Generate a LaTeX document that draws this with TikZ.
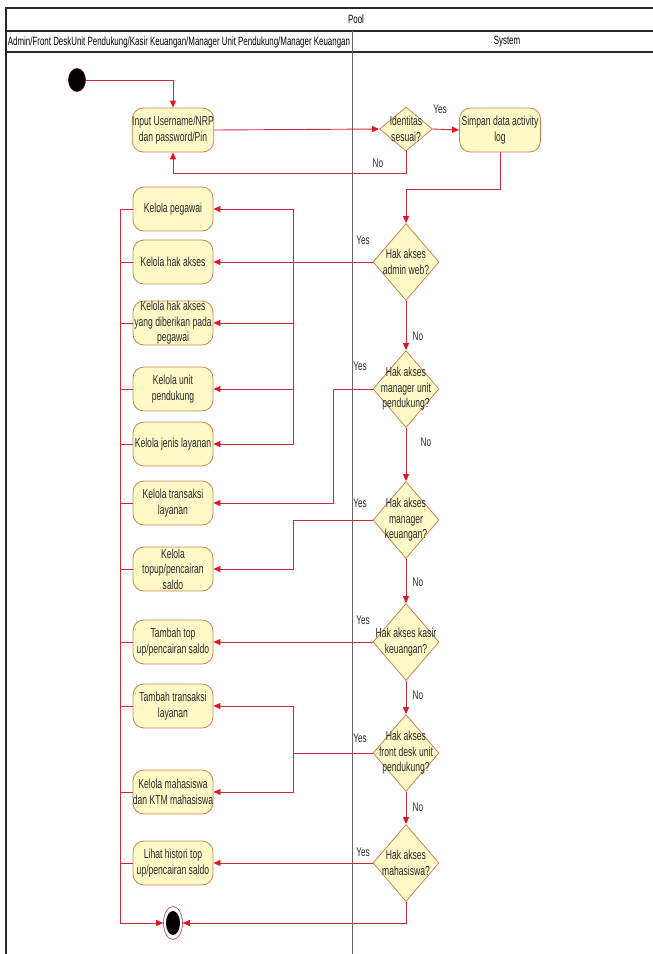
\documentclass[tikz,border=0pt]{standalone}
\usepackage{fontspec}
\setmainfont{Liberation Sans}[FakeStretch=0.66]
\usetikzlibrary{arrows.meta,shapes.geometric,calc}
\definecolor{nodefill}{RGB}{255,249,200}
\definecolor{nodeline}{RGB}{204,130,80}
\definecolor{flow}{RGB}{200,45,55}
\definecolor{tipred}{RGB}{230,20,30}
\definecolor{frameline}{RGB}{40,40,40}
\definecolor{txt}{RGB}{40,40,40}
\begin{document}
\begin{tikzpicture}[x=1pt,y=-1pt,
 act/.style={draw=nodeline,fill=nodefill,rounded corners=11pt,minimum width=80pt,minimum height=44pt,inner sep=0pt,align=center,font=\fontsize{13}{15.5}\selectfont,text=txt,line width=0.8pt},
 dec/.style={draw=nodeline,fill=nodefill,diamond,minimum width=66pt,minimum height=77pt,inner sep=0pt,line width=0.8pt},
 dectxt/.style={align=center,font=\fontsize{13}{15.5}\selectfont,text=txt,inner sep=0pt},
 flowline/.style={draw=flow,line width=0.9pt},
 arr/.style={flowline,-{Triangle[length=7pt,width=6pt,color=tipred]}},
 lbl/.style={font=\fontsize{12.5}{14}\selectfont,text=txt,inner sep=0pt},
 hdr/.style={font=\fontsize{12}{14}\selectfont,text=black,inner sep=0pt},
]
\useasboundingbox (0,0) rectangle (653,954);
% frame
\draw[frameline,line width=1.2pt] (653,8) -- (6,8) -- (6,954);
\draw[frameline,line width=1.2pt] (6,31) -- (653,31);
\draw[frameline,line width=1.2pt] (6,52) -- (653,52);
\draw[black!60,line width=0.8pt] (352,31) -- (352,954);
\node[hdr] (pool) at (356,19.5) {Pool};
\node[hdr] (lane1) at (179,42) {Admin/Front DeskUnit Pendukung/Kasir Keuangan/Manager Unit Pendukung/Manager Keuangan};
\node[hdr] (lane2) at (507,42) {System};

% start / end
\node[draw=black!60!red,fill=black,ellipse,minimum width=17pt,minimum height=23pt,inner sep=0pt,line width=0.6pt] (start) at (77,80) {};
\node[draw=flow,fill=white,ellipse,minimum width=19pt,minimum height=33pt,inner sep=0pt,line width=0.6pt] (end) at (173,923) {};
\node[fill=black,ellipse,minimum width=14pt,minimum height=24pt,inner sep=0pt] (endin) at (end) {};

% actions
\node[act] (input) at (173,130) {Input Username/NRP\\dan password/Pin};
\node[act,minimum width=81pt] (simpan) at (500,130) {Simpan data activity\\log};
\node[act] (k1) at (173,209) {Kelola pegawai};
\node[act] (k2) at (173,262) {Kelola hak akses};
\node[act] (k3) at (173,323) {Kelola hak akses\\yang diberikan pada\\pegawai};
\node[act] (k4) at (173,389) {Kelola unit\\pendukung};
\node[act] (k5) at (173,444) {Kelola jenis layanan};
\node[act] (k6) at (173,503) {Kelola transaksi\\layanan};
\node[act] (k7) at (173,569) {Kelola\\topup/pencairan\\saldo};
\node[act] (k8) at (173,642) {Tambah top\\up/pencairan saldo};
\node[act] (k9) at (173,706) {Tambah transaksi\\layanan};
\node[act] (k10) at (173,792) {Kelola mahasiswa\\dan KTM mahasiswa};
\node[act] (k11) at (173,863) {Lihat histori top\\up/pencairan saldo};

% decisions
\node[dec,minimum width=53pt,minimum height=44pt] (d0) at (406,129) {};
\node[dectxt] (d0t) at (d0) {Identitas\\sesuai?};
\node[dec] (d1) at (406,262) {};
\node[dectxt] (d1t) at (d1) {Hak akses\\admin web?};
\node[dec] (d2) at (406,389) {};
\node[dectxt] (d2t) at (d2) {Hak akses\\manager unit\\pendukung?};
\node[dec] (d3) at (406,520) {};
\node[dectxt] (d3t) at (d3) {Hak akses\\manager\\keuangan?};
\node[dec] (d4) at (406,642) {};
\node[dectxt] (d4t) at (d4) {Hak akses kasir\\keuangan?};
\node[dec] (d5) at (406,753) {};
\node[dectxt] (d5t) at (d5) {Hak akses\\front desk unit\\pendukung?};
\node[dec] (d6) at (406,863) {};
\node[dectxt] (d6t) at (d6) {Hak akses\\mahasiswa?};

% connectors top
\draw[arr] (start.east) -| (input.north);
\draw[arr] (input.east) -- (d0.west);
\draw[arr] (d0.east) -- (simpan.west);
\coordinate (c1) at (173,173);
\draw[arr] (d0.south) |- (c1) -- (input.south);
\coordinate (c2) at (500,189);
\draw[arr] (simpan.south) -- (c2) -| (d1.north);

% decision chain
\draw[arr] (d1.south) -- (d2.north);
\draw[arr] (d2.south) -- (d3.north);
\draw[arr] (d3.south) -- (d4.north);
\draw[arr] (d4.south) -- (d5.north);
\draw[arr] (d5.south) -- (d6.north);

% yes branches
\draw[arr] (d1.west) -- (k2.east);
\coordinate (j1) at (293,262);
\draw[arr] (j1) |- (k1.east);
\draw[arr] (j1) |- (k3.east);
\draw[arr] (j1) |- (k4.east);
\draw[arr] (j1) |- (k5.east);
\coordinate (c3) at (333,389);
\draw[arr] (d2.west) -- (c3) |- (k6.east);
\coordinate (c4) at (293,520);
\draw[arr] (d3.west) -- (c4) |- (k7.east);
\draw[arr] (d4.west) -- (k8.east);
\coordinate (j2) at (293,753);
\draw[flowline] (d5.west) -- (j2);
\draw[arr] (j2) |- (k9.east);
\draw[arr] (j2) |- (k10.east);
\draw[arr] (d6.west) -- (k11.east);

% to end
\coordinate (c5) at (406,923);
\draw[arr] (d6.south) -- (c5) -- (end.east);
\coordinate (bx) at (120,923);
\draw[arr] (k1.west) -| (bx) -- (end.west);
\foreach \n in {k2,k3,k4,k5,k6,k7,k8,k9,k10,k11}
  \draw[flowline] (\n.west) -- (\n.west -| bx);

% labels
\node[lbl] (y0) at (440,109) {Yes};
\node[lbl] (n0) at (378,163) {No};
\node[lbl] (y1) at (363,240) {Yes};
\node[lbl] (n1) at (418,336) {No};
\node[lbl] (y2) at (360,366) {Yes};
\node[lbl] (n2) at (426,442) {No};
\node[lbl] (y3) at (360,503) {Yes};
\node[lbl] (n3) at (418,582) {No};
\node[lbl] (y4) at (363,620) {Yes};
\node[lbl] (n4) at (418,695) {No};
\node[lbl] (y5) at (360,738) {Yes};
\node[lbl] (n5) at (418,807) {No};
\node[lbl] (y6) at (363,852) {Yes};
\end{tikzpicture}
\end{document}
